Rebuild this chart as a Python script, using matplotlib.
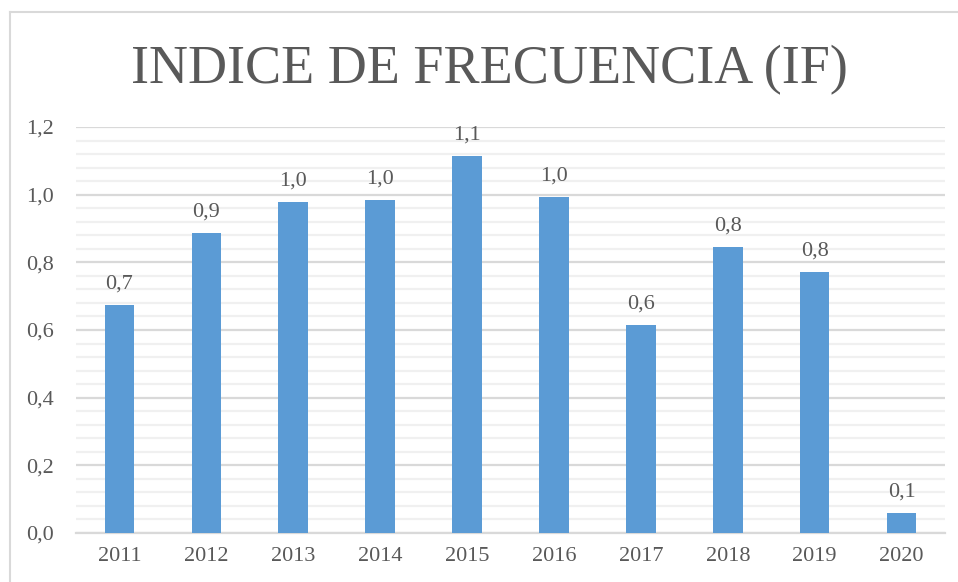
import numpy as np
import matplotlib
matplotlib.use('Agg')
import matplotlib.pyplot as plt
from matplotlib.lines import Line2D

# Datos
anios = ['2011', '2012', '2013', '2014', '2015', '2016', '2017', '2018', '2019', '2020']
indice_frecuencia = [0.674, 0.887, 0.978, 0.984, 1.114, 0.993, 0.615, 0.845, 0.771, 0.059]
ticks_y = [0.0, 0.2, 0.4, 0.6, 0.8, 1.0, 1.2]

gris = '#595959'
plt.rcParams['font.family'] = ['Liberation Serif', 'DejaVu Serif']

fig = plt.figure(figsize=(9.58, 5.82), dpi=100)
ax = fig.add_axes([76/958, 1 - 533/582, 869/958, 406/582])

x = np.arange(len(anios))
ax.bar(x, indice_frecuencia, width=0.34, color='#5b9bd5', zorder=3)

# Etiquetas de valor
for xi, v in zip(x, indice_frecuencia):
    ax.text(xi, v + 0.035, f'{v:.1f}'.replace('.', ','), ha='center', va='bottom',
            fontsize=16, color=gris)

ax.set_xlim(-0.5, len(anios) - 0.5)
ax.set_ylim(0, 1.2)
ax.set_xticks(x)
ax.set_xticklabels(anios)
ax.set_yticks(ticks_y)
ax.set_yticklabels([f'{t:.1f}'.replace('.', ',') for t in ticks_y])
ax.set_yticks(np.arange(0, 1.2001, 0.04), minor=True)
ax.tick_params(axis='both', length=0, labelsize=16, labelcolor=gris)
ax.tick_params(axis='y', which='minor', length=0)
ax.tick_params(axis='x', pad=10)
ax.tick_params(axis='y', pad=16)

ax.grid(axis='y', which='major', color='#d9d9d9', linewidth=1.6, zorder=0)
ax.grid(axis='y', which='minor', color='#f0f0f0', linewidth=1.6, zorder=0)
for s in ['top', 'right', 'left']:
    ax.spines[s].set_visible(False)
ax.spines['bottom'].set_color('#d9d9d9')
ax.spines['bottom'].set_linewidth(1.6)

fig.text(0.511, 1 - 70/582, 'INDICE DE FRECUENCIA (IF)', ha='center', va='center',
         fontsize=39, color=gris)

# Marco del gráfico
fig.add_artist(Line2D([10/958, 10/958], [0, 1 - 12/582], color='#d9d9d9', linewidth=1.5,
                      transform=fig.transFigure))
fig.add_artist(Line2D([10/958, 1], [1 - 12/582, 1 - 12/582], color='#d9d9d9', linewidth=1.5,
                      transform=fig.transFigure))

fig.savefig('out.png', dpi=100)
